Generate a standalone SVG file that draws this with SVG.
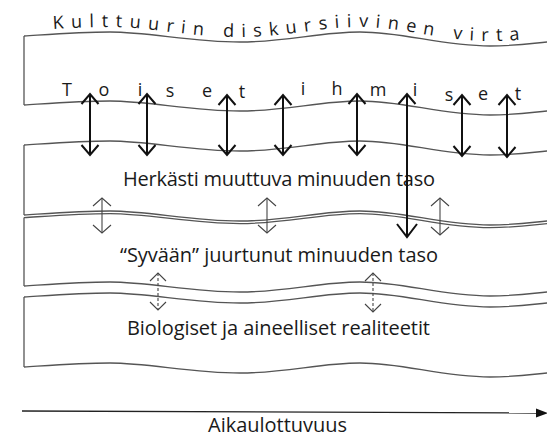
<svg xmlns="http://www.w3.org/2000/svg" xmlns:xlink="http://www.w3.org/1999/xlink" width="547" height="438" viewBox="0 0 547 438">
<style>
.edge{fill:none;stroke:#555;stroke-width:1.3}
.lbl{font-family:"Open Sans","Noto Sans","DejaVu Sans",sans-serif;fill:#1a1a1a;font-size:20px}
.ttl{font-family:"Open Sans","Noto Sans","DejaVu Sans",sans-serif;fill:#1a1a1a;font-size:18px;letter-spacing:7.4px}
.ltr{font-family:"Open Sans","Noto Sans","DejaVu Sans",sans-serif;fill:#1a1a1a;font-size:18px;text-anchor:middle}
.thick{stroke:#111;stroke-width:2;fill:none}
.thin{stroke:#444;stroke-width:1.1;fill:none}
.dash{stroke:#444;stroke-width:1.1;fill:none;stroke-dasharray:3 2}
</style>
<defs>
<path id="wave" d="M24,4 C55,2 80,0 110,0 C150,0 190,10 240,10 C285,10 320,0 360,0 C405,0 440,14 490,14 C520,14 540,10 560,9"/>
<path id="titlePath" d="M24,31 C55,29 80,27 110,27 C150,27 190,37 240,37 C285,37 320,27 360,27 C405,27 440,41 490,41 C520,41 540,37 580,36"/>
<marker id="hk" viewBox="-12 -10 14 20" refX="0" refY="0" markerWidth="14" markerHeight="20" markerUnits="userSpaceOnUse" orient="auto-start-reverse">
<path d="M-10,-8.5 L0,0 L-10,8.5" fill="none" stroke="#111" stroke-width="2"/>
</marker>
<marker id="hkL" viewBox="-15 -12 17 24" refX="0" refY="0" markerWidth="17" markerHeight="24" markerUnits="userSpaceOnUse" orient="auto-start-reverse">
<path d="M-13,-10 L0,0 L-13,10" fill="none" stroke="#111" stroke-width="2"/>
</marker>
<marker id="ht" viewBox="-10 -10 12 20" refX="0" refY="0" markerWidth="12" markerHeight="20" markerUnits="userSpaceOnUse" orient="auto-start-reverse">
<path d="M-8,-9 L0,0 L-8,9" fill="none" stroke="#444" stroke-width="1.1"/>
</marker>
<marker id="hd" viewBox="-10 -10 12 20" refX="0" refY="0" markerWidth="12" markerHeight="20" markerUnits="userSpaceOnUse" orient="auto-start-reverse">
<path d="M-8,-8 L0,0 L-8,8" fill="none" stroke="#444" stroke-width="1.1"/>
</marker>
</defs>
<rect width="547" height="438" fill="#fff"/>

<g id="culture">
<use xlink:href="#wave" class="edge" transform="translate(0,32)"/>
<use xlink:href="#wave" class="edge" transform="translate(0,101)"/>
<line class="edge" x1="24" y1="36" x2="24" y2="105"/>
<text class="ttl"><textPath xlink:href="#titlePath" startOffset="29">Kulttuurin diskursiivinen virta</textPath></text>
<text class="ltr" x="67" y="96">T</text>
<text class="ltr" x="104" y="96">o</text>
<text class="ltr" x="140" y="96">i</text>
<text class="ltr" x="170" y="97">s</text>
<text class="ltr" x="207" y="97">e</text>
<text class="ltr" x="242" y="98">t</text>
<text class="ltr" x="303" y="95">i</text>
<text class="ltr" x="337" y="95">h</text>
<text class="ltr" x="378" y="96">m</text>
<text class="ltr" x="415" y="96">i</text>
<text class="ltr" x="449" y="101">s</text>
<text class="ltr" x="483" y="100">e</text>
<text class="ltr" x="518" y="100">t</text>
</g>

<g id="surface">
<use xlink:href="#wave" class="edge" transform="translate(0,141)"/>
<use xlink:href="#wave" class="edge" transform="translate(0,211)"/>
<line class="edge" x1="24" y1="145" x2="24" y2="215"/>
<text class="lbl" x="279" y="186" text-anchor="middle" textLength="312" lengthAdjust="spacing">Herkästi muuttuva minuuden taso</text>
</g>

<g id="deep">
<use xlink:href="#wave" class="edge" transform="translate(0,213.6)"/>
<use xlink:href="#wave" class="edge" transform="translate(0,282)"/>
<line class="edge" x1="24" y1="217.6" x2="24" y2="286"/>
<text class="lbl" x="279" y="262" text-anchor="middle" textLength="318" lengthAdjust="spacing">“Syvään” juurtunut minuuden taso</text>
</g>

<g id="bio">
<use xlink:href="#wave" class="edge" transform="translate(0,293)"/>
<use xlink:href="#wave" class="edge" transform="translate(0,363)"/>
<line class="edge" x1="24" y1="297" x2="24" y2="367"/>
<text class="lbl" x="278.5" y="335" text-anchor="middle" textLength="303" lengthAdjust="spacing">Biologiset ja aineelliset realiteetit</text>
</g>

<g id="time">
<line x1="22" y1="411" x2="538" y2="413" stroke="#222" stroke-width="1.4"/>
<polygon points="548,413 536,408.5 536,417.5" fill="#111"/>
<text class="lbl" x="277.5" y="432" text-anchor="middle" textLength="139" lengthAdjust="spacing">Aikaulottuvuus</text>
</g>

<g id="connectors">
<line class="thick" x1="90" y1="94" x2="90" y2="155" marker-start="url(#hk)" marker-end="url(#hk)"/>
<line class="thick" x1="147" y1="94" x2="147" y2="155" marker-start="url(#hk)" marker-end="url(#hk)"/>
<line class="thick" x1="227" y1="95" x2="227" y2="155" marker-start="url(#hk)" marker-end="url(#hk)"/>
<line class="thick" x1="283" y1="95" x2="283" y2="155" marker-start="url(#hk)" marker-end="url(#hk)"/>
<line class="thick" x1="357" y1="94" x2="357" y2="155" marker-start="url(#hk)" marker-end="url(#hk)"/>
<line class="thick" x1="407" y1="94" x2="407" y2="237" marker-start="url(#hk)" marker-end="url(#hkL)"/>
<line class="thick" x1="462" y1="95" x2="462" y2="156" marker-start="url(#hk)" marker-end="url(#hk)"/>
<line class="thick" x1="507" y1="95" x2="507" y2="157" marker-start="url(#hk)" marker-end="url(#hk)"/>
<line class="thin" x1="102" y1="198" x2="102" y2="233" marker-start="url(#ht)" marker-end="url(#ht)"/>
<line class="thin" x1="267" y1="198" x2="267" y2="233" marker-start="url(#ht)" marker-end="url(#ht)"/>
<line class="thin" x1="440" y1="198" x2="440" y2="235" marker-start="url(#ht)" marker-end="url(#ht)"/>
<line class="dash" x1="158" y1="273" x2="158" y2="310" marker-start="url(#hd)" marker-end="url(#hd)"/>
<line class="dash" x1="373" y1="273" x2="373" y2="312" marker-start="url(#hd)" marker-end="url(#hd)"/>
</g>
</svg>
